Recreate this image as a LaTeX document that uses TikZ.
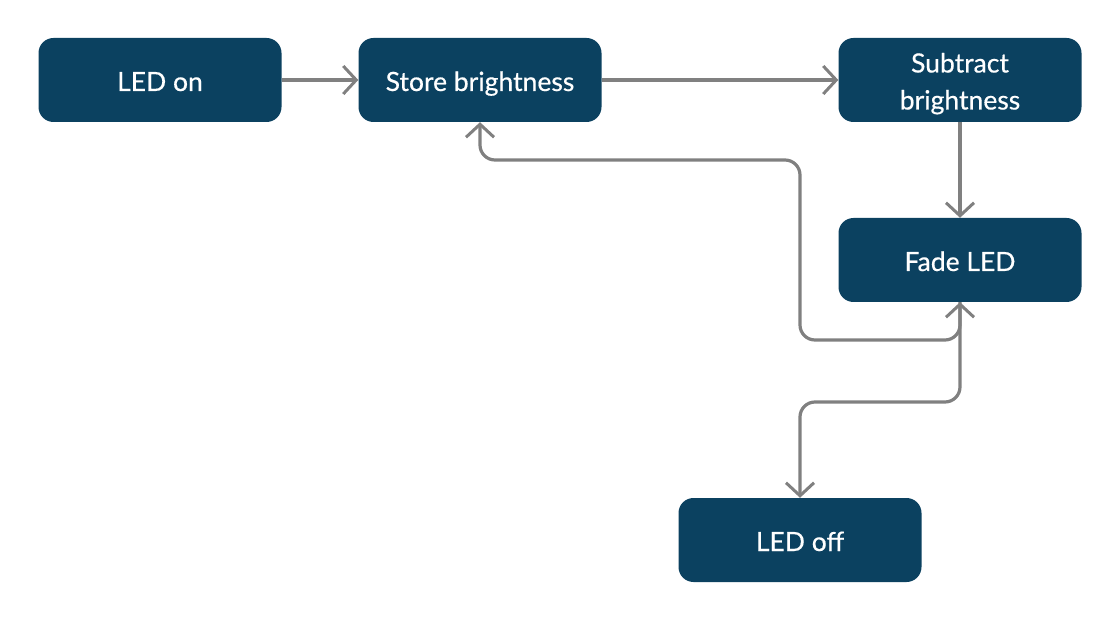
\documentclass[tikz,border=0pt]{standalone}
\usepackage{fontspec}
\setmainfont{Lato}
\newfontfamily\boxfont{Lato}[FakeBold=0.5]
\usepackage{tikz}
\usetikzlibrary{arrows.meta}
\definecolor{boxblue}{HTML}{0B4160}
\definecolor{linegray}{HTML}{808080}

\begin{document}
\begin{tikzpicture}[x=1pt,y=-1pt,
  state/.style={fill=boxblue,text=white,rounded corners=15pt,minimum width=243pt,minimum height=84pt,align=center,font=\boxfont\fontsize{26.5}{37}\selectfont,inner sep=0pt,text height=22pt,text depth=0pt},
  barb/.tip={Straight Barb[length=13pt,width=28pt,line width=3pt]},
  link/.style={draw=linegray,line width=3.2pt,rounded corners=15pt,-barb}]
\useasboundingbox (0,0) rectangle (1120,620);

\node[state] (on) at (160,80) {LED on};
\node[state] (store) at (480,80) {Store brightness};
\node[state,text height=59pt] (sub) at (960,80) {Subtract\\brightness};
\node[state] (fade) at (960,260) {Fade LED};
\node[state] (off) at (800,540) {LED off};

\draw[link] (on) -- (store);
\draw[link] (store) -- (sub);
\draw[link] (sub) -- (fade);
\draw[link] (fade.south) -- (960,340) -- (800,340) -- (800,160) -- (480,160) -- (store.south);
\draw[link,barb-barb] (fade.south) -- (960,402) -- (800,402) -- (off.north);
\end{tikzpicture}
\end{document}
